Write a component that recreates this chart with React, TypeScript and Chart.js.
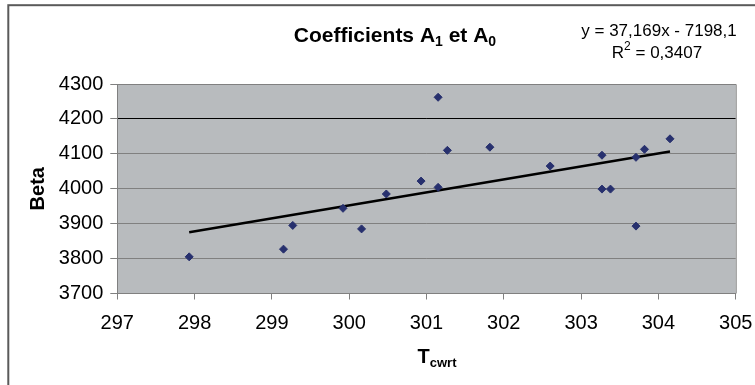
import React, { useEffect, useRef } from "react";
import { Chart, registerables } from "chart.js";

Chart.register(...registerables);

// ---- data ----
const tcwrt = [297.93, 299.15, 299.27, 299.92, 300.16, 300.48, 300.93, 301.15, 301.15, 301.27, 301.82, 302.6, 303.27, 303.27, 303.38, 303.71, 303.82, 303.71, 304.15];
const beta = [3805, 3827, 3895, 3944, 3885, 3985, 4022, 4262, 4004, 4110, 4119, 4065, 4096, 3999, 3999, 4090, 4113, 3893, 4143];
const trendSlope = 37.169;
const trendIntercept = -7198.1;
const equationText = "y = 37,169x - 7198,1";
const r2Text = " = 0,3407";
const xTicks = [297, 298, 299, 300, 301, 302, 303, 304, 305];
const yTicks = [3700, 3800, 3900, 4000, 4100, 4200, 4300];

const FONT = "'Liberation Sans', Arial, sans-serif";

type Seg = { text: string; font: string; dy: number };

function drawRich(ctx: CanvasRenderingContext2D, segs: Seg[], x: number, y: number, align: "center" | "left") {
  let total = 0;
  const widths = segs.map((s) => {
    ctx.font = s.font;
    const w = ctx.measureText(s.text).width;
    total += w;
    return w;
  });
  let cx = align === "center" ? x - total / 2 : x;
  ctx.textAlign = "left";
  ctx.textBaseline = "alphabetic";
  segs.forEach((s, i) => {
    ctx.font = s.font;
    ctx.fillText(s.text, cx, y + s.dy);
    cx += widths[i];
  });
}

const decorPlugin = {
  id: "decor",
  beforeDraw(chart: any) {
    const { ctx, chartArea } = chart;
    ctx.save();
    ctx.fillStyle = "#ffffff";
    ctx.fillRect(0, 0, chart.width, chart.height);
    ctx.strokeStyle = "#5a5a5a";
    ctx.lineWidth = 2;
    ctx.strokeRect(8.3, 5.2, chart.width + 20, chart.height + 20);
    ctx.fillStyle = "#b8bbbe";
    ctx.fillRect(chartArea.left, chartArea.top, chartArea.right - chartArea.left, chartArea.bottom - chartArea.top);
    ctx.restore();
  },
  afterDraw(chart: any) {
    const { ctx, chartArea } = chart;
    ctx.save();
    ctx.strokeStyle = "#808080";
    ctx.lineWidth = 1;
    ctx.beginPath();
    ctx.moveTo(chartArea.left, chartArea.top + 0.5);
    ctx.lineTo(chartArea.right + 0.5, chartArea.top + 0.5);
    ctx.lineTo(chartArea.right + 0.5, chartArea.bottom);
    ctx.stroke();

    ctx.fillStyle = "#000000";
    // main title
    const tb = `bold 21px ${FONT}`;
    const ts = `bold 14px ${FONT}`;
    drawRich(
      ctx,
      [
        { text: "Coefficients A", font: tb, dy: 0 },
        { text: "1", font: ts, dy: 4 },
        { text: " et A", font: tb, dy: 0 },
        { text: "0", font: ts, dy: 4 },
      ],
      395,
      42,
      "center"
    );
    // equation
    const ef = `17px ${FONT}`;
    drawRich(ctx, [{ text: equationText, font: ef, dy: 0 }], 659, 36, "center");
    drawRich(
      ctx,
      [
        { text: "R", font: ef, dy: 0 },
        { text: "2", font: `12px ${FONT}`, dy: -8 },
        { text: r2Text, font: ef, dy: 0 },
      ],
      657,
      58,
      "center"
    );
    // x axis title
    const af = `bold 20px ${FONT}`;
    drawRich(
      ctx,
      [
        { text: "T", font: af, dy: 0 },
        { text: "cwrt", font: `bold 13px ${FONT}`, dy: 4 },
      ],
      437,
      363,
      "center"
    );
    // y axis title
    ctx.translate(44, (chartArea.top + chartArea.bottom) / 2);
    ctx.rotate(-Math.PI / 2);
    drawRich(ctx, [{ text: "Beta", font: af, dy: 0 }], 0, 0, "center");
    ctx.restore();
  },
};

export default function App() {
  const ref = useRef<HTMLCanvasElement | null>(null);
  useEffect(() => {
    if (!ref.current) return;
    const points = tcwrt.map((x, i) => ({ x, y: beta[i] }));
    const xMin = Math.min(...tcwrt);
    const xMax = Math.max(...tcwrt);
    const trend = [
      { x: xMin, y: trendSlope * xMin + trendIntercept },
      { x: xMax, y: trendSlope * xMax + trendIntercept },
    ];
    const chart = new Chart(ref.current, {
      type: "scatter",
      data: {
        datasets: [
          {
            label: "Beta",
            data: points,
            pointStyle: "rectRot",
            pointRadius: 4,
            pointBackgroundColor: "#27306e",
            pointBorderColor: "#27306e",
            pointBorderWidth: 1,
            order: 0,
          },
          {
            label: "Trend",
            data: trend,
            showLine: true,
            borderColor: "#000000",
            borderWidth: 2.5,
            pointRadius: 0,
            order: 1,
          } as any,
        ],
      },
      options: {
        animation: false,
        responsive: false,
        layout: { padding: { left: 0, right: 19.3, top: 84, bottom: 0 } },
        plugins: { legend: { display: false }, tooltip: { enabled: false }, title: { display: false } },
        scales: {
          x: {
            type: "linear",
            min: 297,
            max: 305,
            afterBuildTicks: (s: any) => {
              s.ticks = xTicks.map((v) => ({ value: v }));
            },
            afterFit: (s: any) => {
              s.height = 385 - 293.5;
              s.paddingLeft = 0;
              s.paddingRight = 0;
            },
            ticks: { font: { family: FONT, size: 20 }, color: "#000", padding: 12, callback: (v: any) => String(v) },
            grid: { drawOnChartArea: false, drawTicks: true, tickLength: 6, color: "#808080", tickColor: "#808080" },
            border: { display: true, color: "#808080", width: 1 },
          },
          y: {
            type: "linear",
            min: 3700,
            max: 4300,
            afterBuildTicks: (s: any) => {
              s.ticks = yTicks.map((v) => ({ value: v }));
            },
            afterFit: (s: any) => {
              s.width = 117.3;
              s.paddingTop = 0;
              s.paddingBottom = 0;
            },
            ticks: { font: { family: FONT, size: 20 }, color: "#000", padding: 7, callback: (v: any) => String(v) },
            grid: {
              drawTicks: true,
              tickLength: 7,
              color: (c: any) => (c.tick && c.tick.value === 4200 ? "#000000" : "#808080"),
              tickColor: "#808080",
            },
            border: { display: true, color: "#808080", width: 1 },
          },
        },
      },
      plugins: [decorPlugin],
    });
    return () => chart.destroy();
  }, []);
  return (
    <div style={{ position: "fixed", left: 0, top: 0, width: 755, height: 385, background: "#fff" }}>
      <canvas ref={ref} width={755} height={385} style={{ width: 755, height: 385, display: "block" }} />
    </div>
  );
}
